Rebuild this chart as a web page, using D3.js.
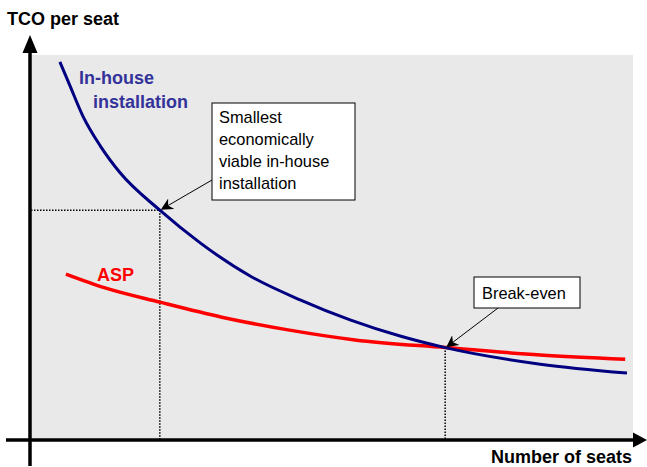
<!DOCTYPE html>
<html lang="en">
<head>
<meta charset="utf-8">
<title>TCO per seat</title>
<script src="https://d3js.org/d3.v7.min.js"></script>
<style>
  body { margin: 0; background: #fff; }
  text { font-family: "Liberation Sans", Arial, sans-serif; }
  .axis-title { font-weight: bold; font-size: 18px; fill: #000; }
  .series-label { font-weight: bold; font-size: 18px; }
  .note { font-size: 16.4px; fill: #000; }
</style>
</head>
<body>
<div id="chart"></div>
<script>
const w = 647, h = 467;

// number of seats (abstract 0-100) and TCO per seat (abstract 0-100)
const inhouseSeats = [4.8, 6.5, 8.6, 11.5, 14.8, 21.4, 28.1, 36.4, 44.7, 53.0, 61.3, 68.8, 84.6, 99.0];
const inhouseTco   = [98.2, 91.9, 84.2, 76.4, 69.4, 59.7, 51.2, 42.6, 36.4, 31.2, 27.0, 24.0, 19.7, 17.4];
const aspSeats = [5.8, 12.3, 21.4, 31.7, 42.7, 53.8, 68.8, 84.6, 98.7];
const aspTco   = [43.1, 39.5, 35.8, 31.9, 28.6, 26.0, 24.0, 22.1, 21.0];

// marked points: smallest viable in-house, break-even
const markSeats = [21.4, 68.8];
const markTco   = [59.7, 24.0];
const noteLines = [["Smallest", "economically", "viable in-house", "installation"], ["Break-even"]];

const svg = d3.select("#chart").append("svg")
  .attr("width", w).attr("height", h);

const x = d3.scaleLinear().domain([0, 100]).range([31, 633]);
const y = d3.scaleLinear().domain([0, 100]).range([440, 55]);

// plot background
svg.append("rect")
  .attr("x", x(0)).attr("y", y(100))
  .attr("width", x(100) - x(0)).attr("height", y(0) - y(100))
  .attr("fill", "#e9e9e9");

// dotted guide lines
const dot = "1.5,1.5";
svg.append("line")
  .attr("x1", x(0)).attr("x2", x(markSeats[0]))
  .attr("y1", y(markTco[0])).attr("y2", y(markTco[0]))
  .attr("stroke", "#000").attr("stroke-width", 1.5).attr("stroke-dasharray", dot);
markSeats.forEach((s, i) => {
  svg.append("line")
    .attr("x1", x(s)).attr("x2", x(s))
    .attr("y1", y(markTco[i])).attr("y2", y(0))
    .attr("stroke", "#000").attr("stroke-width", 1.5).attr("stroke-dasharray", dot);
});

// curves
const line = d3.line()
  .x(d => x(d[0])).y(d => y(d[1]))
  .curve(d3.curveMonotoneX);

svg.append("path")
  .attr("d", line(d3.zip(aspSeats, aspTco)))
  .attr("fill", "none").attr("stroke", "#ff0000").attr("stroke-width", 3.5);

svg.append("path")
  .attr("d", line(d3.zip(inhouseSeats, inhouseTco)))
  .attr("fill", "none").attr("stroke", "#000080").attr("stroke-width", 3);

// axes with arrowheads
svg.append("line")
  .attr("x1", 6).attr("x2", 636)
  .attr("y1", y(0)).attr("y2", y(0))
  .attr("stroke", "#000").attr("stroke-width", 3.5);
svg.append("path")
  .attr("d", `M647,${y(0)} L633,${y(0) - 7.5} L633,${y(0) + 7.5} Z`)
  .attr("fill", "#000");

svg.append("line")
  .attr("x1", x(0) - 1).attr("x2", x(0) - 1)
  .attr("y1", 466).attr("y2", 50)
  .attr("stroke", "#000").attr("stroke-width", 3.5);
svg.append("path")
  .attr("d", `M${x(0) - 1},35 L${x(0) - 8.5},53 L${x(0) + 6.5},53 Z`)
  .attr("fill", "#000");

svg.append("text").attr("class", "axis-title")
  .attr("x", 7).attr("y", 25).text("TCO per seat");
svg.append("text").attr("class", "axis-title")
  .attr("x", 632).attr("y", 463).attr("text-anchor", "end").text("Number of seats");

// series labels
svg.append("text").attr("class", "series-label").attr("fill", "#333399")
  .attr("x", 79).attr("y", 84).text("In-house");
svg.append("text").attr("class", "series-label").attr("fill", "#333399")
  .attr("x", 93).attr("y", 108).text("installation");
svg.append("text").attr("class", "series-label").attr("fill", "#ff0000")
  .attr("x", 97).attr("y", 281).text("ASP");

// annotation boxes with arrows
const defs = svg.append("defs");
defs.append("marker")
  .attr("id", "arr").attr("viewBox", "0 0 10 10")
  .attr("refX", 9).attr("refY", 5)
  .attr("markerWidth", 12).attr("markerHeight", 12)
  .attr("markerUnits", "userSpaceOnUse")
  .attr("orient", "auto")
  .append("path").attr("d", "M0,0 L10,5 L0,10 L3,5 Z").attr("fill", "#000");

const boxes = [
  { x: 212, y: 103, w: 143, h: 97, from: [212, 180], tx: 219, ty: 123, lh: 22 },
  { x: 474, y: 277, w: 106, h: 31, from: [498, 308], tx: 482, ty: 299, lh: 22 }
];
boxes.forEach((b, i) => {
  svg.append("line")
    .attr("x1", b.from[0]).attr("y1", b.from[1])
    .attr("x2", x(markSeats[i]) + 2).attr("y2", y(markTco[i]) - 1)
    .attr("stroke", "#000").attr("stroke-width", 1)
    .attr("marker-end", "url(#arr)");
  svg.append("rect")
    .attr("x", b.x).attr("y", b.y).attr("width", b.w).attr("height", b.h)
    .attr("fill", "#fff").attr("stroke", "#000").attr("stroke-width", 1);
  noteLines[i].forEach((t, j) => {
    svg.append("text").attr("class", "note")
      .attr("x", b.tx).attr("y", b.ty + j * b.lh).text(t);
  });
});
</script>
</body>
</html>
